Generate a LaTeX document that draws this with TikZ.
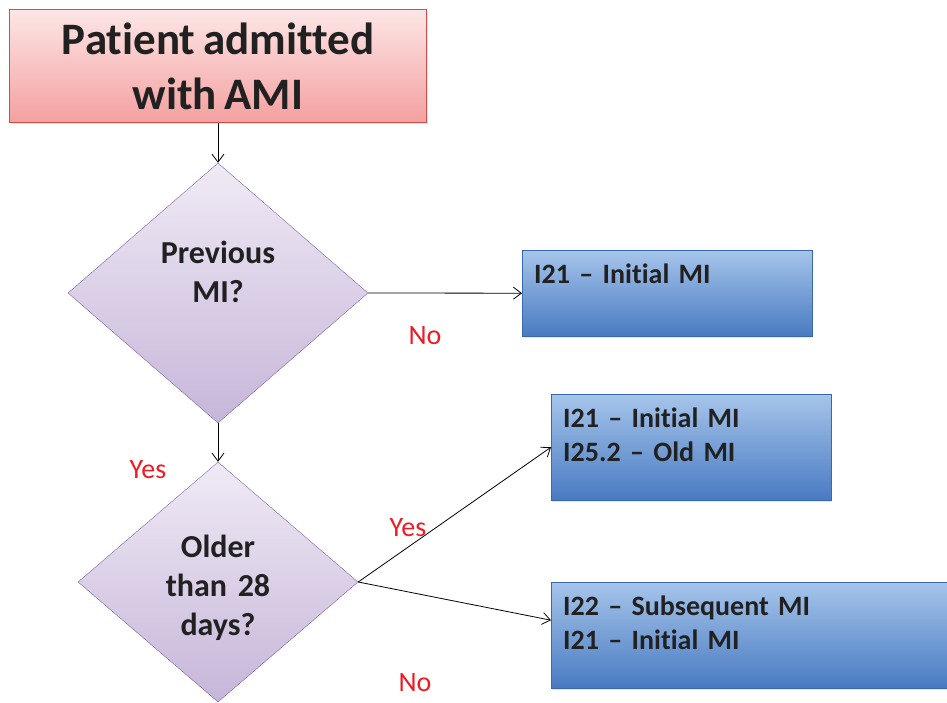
\documentclass[tikz,border=0pt]{standalone}
\usepackage{fontspec}
\setmainfont{Carlito}[Ligatures={TeX,NoCommon}, WordSpace=0.75]
\usepackage{xcolor}
\usetikzlibrary{shapes.geometric,arrows.meta,shadows}

\definecolor{pinktop}{RGB}{253,230,230}
\definecolor{pinkbot}{RGB}{244,160,160}
\definecolor{pinkline}{RGB}{200,80,77}
\definecolor{liltop}{RGB}{240,234,245}
\definecolor{lilbot}{RGB}{198,182,217}
\definecolor{lilline}{RGB}{128,100,162}
\definecolor{bluetop}{RGB}{166,197,234}
\definecolor{bluemid}{RGB}{136,174,222}
\definecolor{bluebot}{RGB}{72,122,194}
\definecolor{blueline}{RGB}{58,104,170}
\definecolor{labred}{RGB}{237,28,36}

\begin{document}
\begin{tikzpicture}[x=1pt, y=-1pt,
    startbox/.style = {shape=rectangle, draw=pinkline, align=center,
      top color=pinktop, bottom color=pinkbot,
      minimum width=417pt, minimum height=113pt, text=black!87,
      font=\bfseries\fontsize{45}{55}\selectfont,
      drop shadow={opacity=0.2, shadow xshift=1pt, shadow yshift=-2pt}},
    question/.style = {shape=diamond, draw=lilline, align=center,
      top color=liltop, bottom color=lilbot, aspect=1.154,
      minimum width=300pt, minimum height=260pt, inner sep=0pt,
      text width=140pt, text height=22pt, text=black!87,
      font=\bfseries\fontsize{32}{39}\selectfont},
    codebox/.style = {shape=rectangle, draw=blueline, align=left,
      top color=bluetop, middle color=bluemid, bottom color=bluebot,
      anchor=north west, inner xsep=12pt, inner ysep=0pt,
      text height=33pt, text depth=73pt, text=black!87,
      font=\bfseries\fontsize{28}{34}\selectfont,
      drop shadow={opacity=0.2, shadow xshift=1pt, shadow yshift=-2pt}},
    answer/.style = {text=labred, font=\fontsize{28}{34}\selectfont},
    flow/.style = {draw=black, line width=0.8pt,
      -{Straight Barb[length=8pt,width=12pt]}}]
    \useasboundingbox (0,0) rectangle (947,703);
    \node[startbox] (admit) at (218,66) {Patient admitted\\with AMI};
    \node[question, text depth=80pt] (prev) at (218,293) {Previous\\MI?};
    \node[question, aspect=1.167, minimum width=280pt, minimum height=240pt,
      text depth=72pt] (older) at (218,582) {Older\\than 28\\days?};
    \node[codebox, text width=266pt, text depth=53pt] (initial) at (522,250)
      {I21 -- Initial MI};
    \node[codebox, text width=256pt] (oldmi) at (551,394)
      {I21 -- Initial MI\\I25.2 -- Old MI};
    \node[codebox, text width=386pt] (subseq) at (551,582)
      {I22 -- Subsequent MI\\I21 -- Initial MI};
    \node[answer] (noprev) at (425,336) {No};
    \node[answer] (yesprev) at (148,470) {Yes};
    \node[answer] (yesold) at (408,528) {Yes};
    \node[answer] (noold) at (415,683) {No};
    \draw[flow] (admit) -- (prev);
    \draw[flow] (prev.east) -- (initial.west);
    \draw[flow] (prev) -- (older);
    \draw[flow] (older.east) -- (oldmi.west);
    \draw[flow] (older.east) -- ([yshift=15pt]subseq.west);
  \end{tikzpicture}
\end{document}
